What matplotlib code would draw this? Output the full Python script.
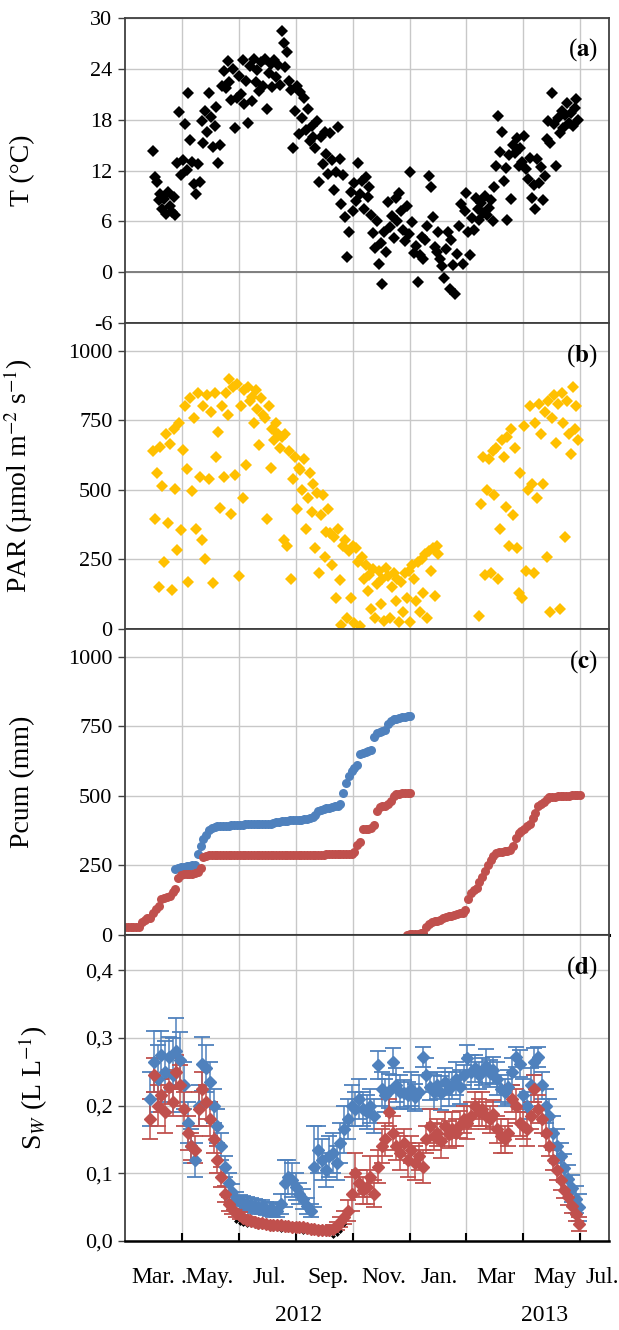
import matplotlib
matplotlib.use("Agg")
import matplotlib.pyplot as plt
import matplotlib.transforms as mtransforms
import numpy as np
from matplotlib.ticker import FuncFormatter

plt.rcParams['font.family'] = 'Liberation Serif'
plt.rcParams['mathtext.fontset'] = 'stix'
plt.rcParams['axes.unicode_minus'] = False

# time axis in days counted from 1 Feb 2012
# air temperature (deg C), every 2nd day from day 30
T_START, T_STEP = 30, 2
temp = [14.3, 11.2, 10.6, 8.5, 9.2, 7.4, 8.6, 6.9, 9.5, 7.8, 7.1, 8.9, 6.8, 12.9, 18.9,
        11.5, 13.2, 17.5, 12.1, 21.2, 15.6, 13.0, 10.4, 9.2, 12.8, 10.7, 17.8, 15.3, 19.0, 16.5,
        21.1, 18.3, 14.8, 17.2, 19.5, 12.9, 15.0, 22.0, 23.8, 21.7, 24.9, 22.4, 20.3, 24.0, 17.0,
        20.5, 23.1, 21.0, 25.0, 19.8, 22.6, 17.6, 24.3, 20.2, 25.2, 22.5, 23.9, 21.4, 24.8, 22.0,
        25.1, 19.2, 23.5, 24.6, 21.8, 25.0, 23.0, 24.4, 22.1, 28.5, 27.0, 24.2, 26.0, 22.6, 21.5,
        14.7, 19.0, 22.0, 16.3, 21.3, 18.2, 20.6, 16.8, 19.2, 15.5, 17.3, 16.0, 14.6, 17.8, 10.6,
        15.9, 12.8, 16.5, 14.0, 11.6, 16.4, 13.2, 9.7, 11.8, 17.1, 13.3, 8.0, 11.5, 6.5, 1.8,
        4.8, 9.5, 7.2, 10.5, 8.4, 12.9, 9.2, 10.8, 7.5, 11.2, 8.9, 10.0, 6.8, 4.6, 2.8,
        6.0, 1.0, 3.5, -1.4, 4.8, 2.4, 8.3, 5.3, 6.6, 4.0, 8.8, 6.1, 9.3, 7.2, 5.0,
        3.7, 7.8, 4.5, 11.8, 5.9, 2.3, 3.1, -1.2, 2.0, 4.2, 1.6, 3.8, 5.4, 11.4, 10.1,
        6.5, 3.0, 2.4, 4.7, 1.6, 0.7, -0.7, 2.7, 4.8, -2.0, 3.8, 0.9, -2.6, 2.2, 5.5,
        8.0, 1.0, 7.2, 9.3, 4.7, 2.0, 6.4, 5.0, 8.8, 7.5, 6.2, 8.2, 7.0, 9.0, 6.8,
        7.6, 8.5, 6.1, 10.0, 12.5, 18.4, 14.2, 16.6, 10.8, 12.3, 6.2, 13.8, 8.6, 15.0, 14.1,
        15.8, 12.5, 14.7, 13.0, 16.1, 12.2, 11.0, 13.5, 8.8, 10.3, 7.4, 13.3, 10.5, 12.4, 8.5,
        11.4, 15.7, 17.8, 15.2, 21.1, 17.5, 12.5, 18.2, 16.4, 19.0, 17.0, 18.6, 20.0, 17.6, 18.8,
        17.3, 19.4, 20.4, 18.0]

# PAR (umol m-2 s-1), two measuring periods
PAR1_START, PAR2_START, PAR_STEP = 30, 380, 2
par_2012 = [640, 395, 560, 150, 655, 515, 240, 700, 380, 665, 140, 720, 505, 285, 740,
            355, 645, 800, 575, 170, 830, 495, 760, 360, 850, 545, 320, 800, 250, 840,
            540, 780, 165, 850, 620, 710, 435, 800, 545, 850, 770, 900, 415, 870, 555,
            880, 190, 800, 470, 860, 590, 870, 820, 835, 740, 860, 790, 660, 830, 770,
            760, 395, 800, 580, 720, 680, 740, 700, 650, 690, 320, 700, 300, 640, 180,
            540, 620, 430, 580, 570, 500, 610, 360, 470, 560, 420, 520, 290, 490, 200,
            410, 480, 260, 350, 430, 345, 230, 330, 110, 360, 175, 15, 300, 320, 40,
            280, 110, 300, 20, 290, 240, 10, 260, 180, 230, 135, 195, 70, 215, 40,
            160, 210, 90, 180, 30, 220, 190, 40, 150, 200, 100, 180, 25, 170, 60,
            200, 110, 210, 25, 230, 180, 100, 240, 60, 250, 130, 270, 40, 280, 210,
            290, 120, 300, 270]
par_2013 = [45, 450, 620, 195, 500, 610, 200, 640, 480, 650, 180, 360, 680, 620, 440,
            690, 300, 720, 410, 650, 290, 130, 560, 110, 730, 210, 500, 800, 520, 200,
            740, 470, 810, 700, 520, 780, 260, 820, 60, 760, 840, 670, 810, 70, 850,
            740, 330, 820, 700, 630, 870, 720, 800, 680]

# cumulative precipitation (mm), every 3rd day
P_STEP = 3
PRED1_START, PBLUE_START, PRED2_START = 0, 54, 302
pcum_red_2012 = [28, 28, 28, 28, 28, 30, 45, 55, 60, 62, 80, 95, 105, 130, 132, 135, 140, 155,
                 165, 205, 215, 218, 218, 220, 220, 222, 225, 240, 280, 285,
                 287, 287, 287, 288, 288, 288, 288, 288, 288, 288, 288, 288, 288, 288, 288,
                 288, 288, 288, 288, 288, 288, 288, 288, 288, 288, 289, 289, 289, 289, 289,
                 289, 289, 289, 289, 289, 289, 289, 289, 289, 289, 289, 289, 290, 290, 290,
                 290, 290, 290, 290, 290, 290,
                 292, 300, 325, 335, 380, 380, 382, 385, 395, 445, 460, 462, 465, 470, 480,
                 500, 505, 508, 510, 510, 512, 512]
pcum_blue_2012 = [238, 242, 245, 246, 248, 248, 250, 252, 290, 320, 345, 360, 378, 385, 388,
                  390, 390, 392, 392, 393, 394, 395, 395, 396, 397, 398, 398, 398, 398, 399,
                  399, 399, 400, 400, 400, 402, 405, 406, 408, 410, 410, 412, 412, 413, 414,
                  415, 416, 418, 420, 425, 430, 445, 450, 452, 455, 458, 460, 462, 465, 470,
                  510, 545, 570, 590, 600, 610, 650, 655, 658, 660, 665, 710, 725, 730, 732,
                  738, 760, 770, 775, 778, 780, 782, 785, 786, 787]
pcum_red_2013 = [0, 2, 3, 3, 4, 6, 8, 30, 40, 45, 50, 52, 55, 60, 65, 68, 70, 72, 75, 78,
                 80, 90, 130, 150, 160, 170, 190, 210, 230, 250, 270, 285, 295, 300, 300,
                 302, 302, 305, 320, 350, 365, 372, 380, 390, 400, 420, 440, 465, 470, 478,
                 490, 495, 495, 497, 498, 498, 500, 500, 501, 502, 503, 503, 504]

# soil water content (L L-1) with standard deviation, every 4th day
SW_START, SW_STEP = 27, 4
sw_blue = [0.210, 0.265, 0.240, 0.275, 0.250, 0.272, 0.245, 0.280, 0.268, 0.230,
           0.175, 0.140, 0.120, 0.200, 0.262, 0.255, 0.235, 0.200, 0.170,
           0.140, 0.110, 0.085, 0.072, 0.062, 0.058, 0.056, 0.055, 0.053, 0.052, 0.050, 0.050,
           0.048, 0.047, 0.046, 0.045,
           0.055, 0.085, 0.095, 0.090, 0.080, 0.070, 0.062, 0.052, 0.045,
           0.110, 0.135, 0.120, 0.105, 0.125, 0.130, 0.115, 0.145, 0.165,
           0.180, 0.200, 0.195, 0.210, 0.195, 0.190, 0.200, 0.185, 0.260, 0.225,
           0.215, 0.222, 0.265, 0.230, 0.220, 0.218, 0.215, 0.225, 0.212, 0.220,
           0.272, 0.245, 0.228, 0.220, 0.230, 0.218, 0.235, 0.225, 0.230, 0.240,
           0.228, 0.245, 0.270, 0.250, 0.255, 0.245, 0.250, 0.258, 0.248, 0.252,
           0.240, 0.225, 0.220, 0.228, 0.250, 0.272, 0.262, 0.215, 0.200, 0.230,
           0.265, 0.272, 0.230, 0.200, 0.185, 0.160, 0.140, 0.125, 0.108, 0.092, 0.078, 0.062, 0.050]
sw_blue_sd = [0.040, 0.045, 0.050, 0.035, 0.045, 0.030, 0.055, 0.050, 0.040, 0.035,
              0.030, 0.025, 0.025, 0.030, 0.040, 0.035, 0.030, 0.025, 0.025,
              0.020, 0.015, 0.015, 0.012, 0.010, 0.010, 0.010, 0.010, 0.010, 0.010, 0.010, 0.010,
              0.010, 0.010, 0.010, 0.010,
              0.015, 0.035, 0.025, 0.025, 0.020, 0.015, 0.015, 0.012, 0.010,
              0.060, 0.035, 0.030, 0.025, 0.030, 0.030, 0.025, 0.030, 0.035,
              0.030, 0.030, 0.025, 0.030, 0.025, 0.025, 0.025, 0.025, 0.020, 0.025,
              0.025, 0.025, 0.020, 0.025, 0.025, 0.020, 0.020, 0.025, 0.020, 0.025,
              0.015, 0.025, 0.020, 0.025, 0.020, 0.025, 0.020, 0.025, 0.020, 0.025,
              0.025, 0.015, 0.020, 0.025, 0.020, 0.020, 0.020, 0.025, 0.020, 0.020,
              0.025, 0.020, 0.020, 0.025, 0.020, 0.015, 0.020, 0.025, 0.020, 0.025,
              0.020, 0.015, 0.020, 0.025, 0.025, 0.025, 0.025, 0.020, 0.020, 0.020, 0.020, 0.020, 0.020]
sw_red = [0.180, 0.245, 0.200, 0.215, 0.190, 0.228, 0.205, 0.250, 0.230, 0.195,
          0.160, 0.140, 0.135, 0.195, 0.225, 0.205, 0.180, 0.150, 0.120,
          0.095, 0.070, 0.055, 0.048, 0.042, 0.038, 0.034, 0.031, 0.029, 0.028, 0.027, 0.026,
          0.025, 0.024, 0.024, 0.023,
          0.023, 0.022, 0.022, 0.021, 0.021, 0.020, 0.020, 0.019, 0.018,
          0.018, 0.017, 0.017, 0.016, 0.016, 0.018, 0.022, 0.028, 0.035,
          0.045, 0.070, 0.100, 0.085, 0.075, 0.080, 0.095, 0.070, 0.110, 0.140,
          0.150, 0.190, 0.160, 0.140, 0.130, 0.145, 0.120, 0.135, 0.115, 0.125,
          0.110, 0.150, 0.170, 0.155, 0.160, 0.148, 0.170, 0.158, 0.165, 0.160,
          0.172, 0.180, 0.175, 0.185, 0.200, 0.190, 0.195, 0.185, 0.180, 0.188,
          0.165, 0.155, 0.150, 0.160, 0.210, 0.200, 0.175, 0.170, 0.165, 0.185,
          0.225, 0.195, 0.180, 0.160, 0.140, 0.120, 0.105, 0.090, 0.075, 0.065, 0.052, 0.040, 0.025]
sw_red_sd = [0.030, 0.025, 0.030, 0.025, 0.030, 0.025, 0.020, 0.025, 0.030, 0.025,
             0.025, 0.020, 0.020, 0.025, 0.025, 0.025, 0.025, 0.020, 0.020,
             0.015, 0.012, 0.010, 0.008, 0.006, 0.005, 0.005, 0.005, 0.004, 0.004, 0.004, 0.004,
             0.004, 0.004, 0.004, 0.004,
             0.004, 0.004, 0.004, 0.004, 0.004, 0.004, 0.004, 0.004, 0.004,
             0.004, 0.004, 0.004, 0.004, 0.004, 0.005, 0.006, 0.008, 0.010,
             0.015, 0.025, 0.030, 0.020, 0.020, 0.025, 0.030, 0.020, 0.025, 0.025,
             0.025, 0.020, 0.025, 0.020, 0.025, 0.020, 0.025, 0.020, 0.025, 0.020,
             0.025, 0.020, 0.025, 0.020, 0.020, 0.025, 0.020, 0.020, 0.025, 0.020,
             0.020, 0.020, 0.025, 0.020, 0.020, 0.020, 0.025, 0.020, 0.020, 0.020,
             0.020, 0.025, 0.020, 0.020, 0.020, 0.025, 0.020, 0.020, 0.025, 0.020,
             0.020, 0.020, 0.020, 0.020, 0.015, 0.015, 0.015, 0.015, 0.012, 0.012, 0.010, 0.010, 0.010]
SWK_START = 119
sw_black = [0.030, 0.027, 0.025, 0.024, 0.023, 0.022, 0.021, 0.020, 0.020, 0.019,
            0.018, 0.018, 0.017, 0.017, 0.016, 0.016, 0.015, 0.015, 0.014, 0.014,
            0.013, 0.013, 0.012, 0.012, 0.011, 0.010, 0.008, 0.010, 0.015, 0.025]

# axis labels under the bottom panel
month_days = [30, 88, 155, 218, 277, 337, 398, 461, 512]
month_labels = ["Mar.", ".May.", "Jul.", "Sep.", "Nov.", "Jan.", "Mar", "May", "Jul."]
year_days = [186, 450]
year_labels = ["2012", "2013"]

BLACK = '#000000'
YELLOW = '#FFC000'
BLUE = '#4F81BD'
RED = '#C0504D'
GRID = '#C8C8C8'
SPINE = '#404040'

XMAX = 519
GRID_STEP = 61


def days(start, step, values):
    return start + step * np.arange(len(values))


fig = plt.figure(figsize=(6.19, 13.30), dpi=100)
left, width = 0.202, 0.782
bottoms = [0.7571, 0.5271, 0.2970, 0.0669]
heights = [0.2294, 0.2300, 0.2301, 0.2301]
axes = [fig.add_axes([left, b, width, h]) for b, h in zip(bottoms, heights)]
ax_t, ax_par, ax_p, ax_sw = axes

for ax in axes:
    ax.set_xlim(0, XMAX)
    ax.set_xticks(np.arange(GRID_STEP, XMAX, GRID_STEP))
    ax.grid(True, color=GRID, lw=1.0)
    ax.set_axisbelow(True)
    for sp in ax.spines.values():
        sp.set_color(SPINE)
        sp.set_linewidth(1.3)
    ax.tick_params(axis='y', direction='out', length=5, width=1, color=SPINE,
                   labelsize=16, pad=4)
    ax.tick_params(axis='x', length=0, labelbottom=False)

# (a) temperature
ax_t.plot(days(T_START, T_STEP, temp), temp, 'D', color=BLACK, ms=6.5, mew=0)
ax_t.axhline(0, color='#7F7F7F', lw=1.4, zorder=1)
ax_t.set_ylim(-6, 30)
ax_t.set_yticks(np.arange(-6, 31, 6))
ax_t.set_ylabel("T (°C)", fontsize=20)

# (b) PAR
ax_par.plot(days(PAR1_START, PAR_STEP, par_2012), par_2012, 'D', color=YELLOW, ms=6.5, mew=0)
ax_par.plot(days(PAR2_START, PAR_STEP, par_2013), par_2013, 'D', color=YELLOW, ms=6.5, mew=0)
ax_par.set_ylim(0, 1100)
ax_par.set_yticks(np.arange(0, 1001, 250))
ax_par.set_ylabel("PAR (µmol m$^{-2}$ s$^{-1}$)", fontsize=20)

# (c) cumulative precipitation
ax_p.plot(days(PBLUE_START, P_STEP, pcum_blue_2012), pcum_blue_2012, 'o', color=BLUE, ms=6.5, mew=0)
ax_p.plot(days(PRED1_START, P_STEP, pcum_red_2012), pcum_red_2012, 'o', color=RED, ms=6.5, mew=0)
ax_p.plot(days(PRED2_START, P_STEP, pcum_red_2013), pcum_red_2013, 'o', color=RED, ms=6.5, mew=0)
ax_p.set_ylim(0, 1100)
ax_p.set_yticks(np.arange(0, 1001, 250))
ax_p.spines['bottom'].set_color(BLACK)
ax_p.spines['bottom'].set_linewidth(2.2)
ax_p.spines['bottom'].set_zorder(5)
ax_p.set_ylabel("Pcum (mm)", fontsize=20)

# (d) soil water content, diamonds with sd bars
x_sw = days(SW_START, SW_STEP, sw_blue)
ax_sw.errorbar(x_sw, sw_blue, yerr=sw_blue_sd, fmt='D', color=BLUE, ms=6, mec=BLUE,
               ecolor=BLUE, elinewidth=1.1, capsize=6, capthick=1.3)
ax_sw.errorbar(x_sw, sw_red, yerr=sw_red_sd, fmt='D', color=RED, ms=6, mec=RED,
               ecolor=RED, elinewidth=1.1, capsize=6, capthick=1.3)
ax_sw.plot(days(SWK_START, SW_STEP, sw_black), sw_black, 'D', color=BLACK, ms=2.5, mew=0)
ax_sw.set_ylim(0, 0.452)
ax_sw.set_yticks(np.arange(0, 0.41, 0.1))
ax_sw.yaxis.set_major_formatter(FuncFormatter(lambda v, _: f"{v:.1f}".replace('.', ',')))
ax_sw.spines['bottom'].set_color(BLACK)
ax_sw.spines['bottom'].set_linewidth(1.8)
ax_sw.tick_params(axis='x', direction='in', length=6, width=1.5, color=BLACK)
ax_sw.set_ylabel("S$_{W}$ (L L$^{-1}$)", fontsize=20)

label_x = [-0.186, -0.186, -0.186, -0.155]
for ax, lx, letter in zip(axes, label_x, "abcd"):
    ax.yaxis.set_label_coords(lx, 0.5)
    ax.text(0.977, 0.895, "($\\mathbf{%s}$)" % letter, transform=ax.transAxes,
            ha='right', va='center', fontsize=18)

trans = mtransforms.blended_transform_factory(ax_sw.transData, ax_sw.transAxes)
for d, lab in zip(month_days, month_labels):
    ax_sw.text(d, -0.118, lab, transform=trans, ha='center', va='center',
               fontsize=17, clip_on=False)
for d, lab in zip(year_days, year_labels):
    ax_sw.text(d, -0.242, lab, transform=trans, ha='center', va='center',
               fontsize=17, clip_on=False)

fig.savefig("out.png", dpi=100)
